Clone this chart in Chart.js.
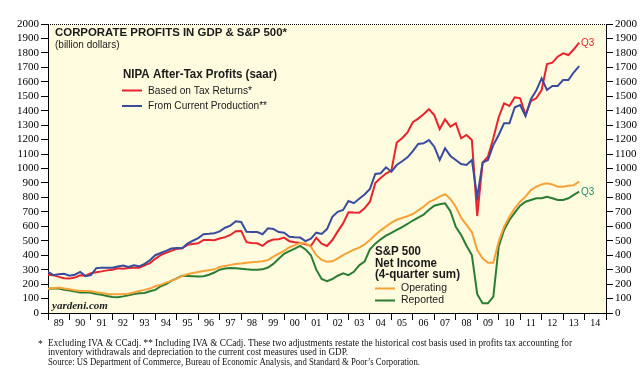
<!DOCTYPE html>
<html lang="en">
<head>
    <meta charset="UTF-8">
    <script src="https://cdn.jsdelivr.net/npm/chart.js"></script>
    <title>Corporate Profits in GDP & S&P 500</title>
    <style>
        body { margin: 0; background: #fff; }
        canvas { display: block; }
    </style>
</head>
<body>
    <canvas id="profitsChart" width="643" height="375"></canvas>

    <script>
        // Quarterly data, first point is 1988 Q4, last is 2013 Q3 (billion dollars)
        const firstYear = 1988;
        const firstQuarter = 4;

        // NIPA after-tax profits based on tax returns (red)
        const taxReturns = [
            265,
            262, 250, 240, 238,   // 89
            245, 261, 258, 275,   // 90
            282, 288, 295, 300,   // 91
            309, 307, 312, 314,   // 92
            314, 330, 345, 375,   // 93
            400, 416, 430, 444,   // 94
            448, 472, 478, 482,   // 95
            506, 505, 504, 515,   // 96
            525, 540, 566, 568,   // 97
            490, 485, 482, 465,   // 98
            495, 508, 510, 522,   // 99
            497, 490, 485, 475,   // 00
            464, 520, 480, 464,   // 01
            505, 565, 620, 697,   // 02
            695, 694, 724, 770,   // 03
            900, 935, 965, 985,   // 04
            1180, 1210, 1250, 1320, // 05
            1345, 1375, 1410, 1370, // 06
            1273, 1340, 1290, 1313, // 07
            1209, 1232, 1197, 671,  // 08
            1040, 1082, 1209, 1355, // 09
            1451, 1433, 1493, 1486, // 10
            1370, 1467, 1486, 1543, // 11
            1723, 1732, 1774, 1797, // 12
            1785, 1825, 1871        // 13
        ];

        // NIPA after-tax profits from current production (blue)
        const currentProduction = [
            285,
            262, 268, 272, 258,
            265, 284, 255, 262,
            310, 314, 314, 314,
            322, 328, 318, 330,
            323, 340, 365, 400,
            415, 430, 446, 450,
            448, 480, 500, 518,
            545, 548, 552, 565,
            590, 605, 635, 630,
            562, 561, 560, 545,
            586, 582, 560, 555,
            528, 524, 522, 498,
            515, 556, 547, 581,
            666, 700, 713, 775,
            760, 790, 820, 858,
            962, 967, 1008, 978,
            1024, 1050, 1077, 1120,
            1170, 1174, 1197, 1151,
            1059, 1140, 1087, 1059,
            1031, 1024, 1059, 800,
            1040, 1059, 1163, 1232,
            1313, 1313, 1424, 1439,
            1363, 1479, 1539, 1624,
            1543, 1571, 1571, 1612,
            1612, 1666, 1709
        ];

        // S&P 500 net income, 4-quarter sum, operating (orange)
        const operating = [
            168,
            172, 176, 170, 164,
            158, 152, 152, 150,
            144, 139, 132, 129,
            129, 131, 134, 142,
            152, 160, 169, 185,
            195, 210, 222, 238,
            255, 268, 277, 284,
            290, 296, 302, 318,
            326, 333, 339, 343,
            348, 352, 354, 358,
            366, 390, 410, 430,
            455, 470, 485, 482,
            458, 400, 368, 355,
            358, 378, 400, 420,
            438, 452, 475, 505,
            540, 572, 598, 625,
            645, 657, 670, 685,
            710, 735, 768, 785,
            805, 822, 790, 735,
            660, 610, 560, 436,
            378, 348, 348, 494,
            597, 666, 724, 770,
            805, 851, 874, 890,
            897, 890, 874, 874,
            880, 885, 909
        ];

        // S&P 500 net income, 4-quarter sum, reported (green)
        const reported = [
            168,
            169, 169, 160, 155,
            148, 142, 143, 140,
            132, 126, 117, 110,
            109, 115, 122, 132,
            136, 139, 150, 160,
            185, 200, 222, 240,
            258, 256, 254, 252,
            255, 265, 280, 300,
            308, 312, 310, 306,
            302, 300, 300, 302,
            315, 340, 375, 410,
            428, 445, 465, 440,
            400, 300, 235, 221,
            235, 258, 275, 262,
            285, 330, 355, 440,
            480, 510, 535, 555,
            575, 595, 616, 640,
            660, 680, 715, 742,
            752, 759, 705, 597,
            540, 465, 401, 130,
            67, 67, 113, 459,
            574, 644, 694, 743,
            770, 782, 794, 794,
            805, 794, 782, 782,
            794, 817, 840
        ];

        const yTicks = { min: 0, max: 2000, step: 100 };
        const yearRange = { min: 1989, max: 2015 };

        const footnotes = [
            'Excluding IVA & CCadj. ** Including IVA & CCadj. These two adjustments restate the historical cost basis used in profits tax accounting for',
            'inventory withdrawals and depreciation to the current cost measures used in GDP.',
            'Source: US Department of Commerce, Bureau of Economic Analysis, and Standard & Poor\u2019s Corporation.'
        ];

        // quarter-end position on the time axis for each data index
        function quarterX(i) {
            const q = firstQuarter - 1 + i;
            return firstYear + Math.floor(q / 4) + ((q % 4) + 1) / 4;
        }

        function toPoints(values) {
            return values.map((v, i) => ({ x: quarterX(i), y: v }));
        }

        const RED = '#E8232B';
        const BLUE = '#3A4B9E';
        const ORANGE = '#F6A236';
        const GREEN = '#2B7D34';
        const GREEN_Q3 = '#1F8C6E';
        const PLOT_BG = '#FEFBDF';

        function lineSet(label, values, color) {
            return {
                label: label,
                data: toPoints(values),
                borderColor: color,
                backgroundColor: color,
                borderWidth: 2,
                pointRadius: 0,
                tension: 0,
                fill: false,
            };
        }

        // yellow plot background and top border
        const plotFrame = {
            id: 'plotFrame',
            beforeDraw(chart) {
                const { ctx, chartArea: a } = chart;
                ctx.save();
                ctx.fillStyle = PLOT_BG;
                ctx.fillRect(a.left, a.top, a.right - a.left, a.bottom - a.top);
                ctx.restore();
            },
            afterDatasetsDraw(chart) {
                const { ctx, chartArea: a } = chart;
                ctx.save();
                ctx.strokeStyle = '#000';
                ctx.lineWidth = 1;
                ctx.setLineDash([1, 1]);
                ctx.beginPath();
                ctx.moveTo(a.left, a.top + 0.5);
                ctx.lineTo(a.right, a.top + 0.5);
                ctx.stroke();
                ctx.restore();
            }
        };

        // titles, legends, notes
        const annotations = {
            id: 'annotations',
            afterDraw(chart) {
                const ctx = chart.ctx;
                const sans = '"Liberation Sans", Arial, sans-serif';
                const serif = '"Liberation Serif", "Times New Roman", serif';
                ctx.save();
                ctx.textBaseline = 'middle';
                ctx.textAlign = 'left';

                ctx.fillStyle = '#1a1a1a';
                ctx.font = 'bold 11.5px ' + sans;
                ctx.fillText('CORPORATE PROFITS IN GDP & S&P 500*', 55, 33, 232);
                ctx.font = '10px ' + sans;
                ctx.fillText('(billion dollars)', 55, 45, 66);

                ctx.font = 'bold 12px ' + sans;
                ctx.fillText('NIPA After-Tax Profits (saar)', 123, 75, 154);
                ctx.font = '10.5px ' + sans;
                ctx.fillText('Based on Tax Returns*', 148, 91, 104);
                ctx.fillText('From Current Production**', 148, 106, 119);
                ctx.lineWidth = 2;
                ctx.strokeStyle = RED;
                ctx.beginPath(); ctx.moveTo(122, 90.5); ctx.lineTo(142, 90.5); ctx.stroke();
                ctx.strokeStyle = BLUE;
                ctx.beginPath(); ctx.moveTo(122, 106); ctx.lineTo(142, 106); ctx.stroke();

                ctx.font = 'bold 12px ' + sans;
                ctx.fillText('S&P 500', 375, 252, 46);
                ctx.fillText('Net Income', 375, 263.5, 62);
                ctx.fillText('(4-quarter sum)', 375, 275, 85);
                ctx.font = '10.5px ' + sans;
                ctx.fillText('Operating', 401, 288, 46);
                ctx.fillText('Reported', 401, 300.5, 43);
                ctx.strokeStyle = ORANGE;
                ctx.beginPath(); ctx.moveTo(375, 288.5); ctx.lineTo(395, 288.5); ctx.stroke();
                ctx.strokeStyle = GREEN;
                ctx.beginPath(); ctx.moveTo(375, 300.5); ctx.lineTo(395, 300.5); ctx.stroke();

                ctx.font = '10px ' + sans;
                ctx.fillStyle = RED;
                ctx.fillText('Q3', 581, 43);
                ctx.fillStyle = GREEN_Q3;
                ctx.fillText('Q3', 581, 192);

                ctx.fillStyle = '#222';
                ctx.font = 'italic bold 11px ' + serif;
                ctx.fillText('yardeni.com', 52, 306, 56);

                ctx.fillStyle = '#111';
                ctx.font = '9.5px ' + serif;
                ctx.fillText('*', 38, 344);
                ctx.fillText(footnotes[0], 48, 343, 524);
                ctx.fillText(footnotes[1], 48, 352.5, 300);
                ctx.fillText(footnotes[2], 48, 362.5, 372);
                ctx.restore();
            }
        };

        const axisFont = { family: '"Liberation Serif", "Times New Roman", serif', size: 11 };

        const ctx = document.getElementById('profitsChart').getContext('2d');
        const chart = new Chart(ctx, {
            type: 'line',
            data: {
                datasets: [
                    lineSet('Operating', operating, ORANGE),
                    lineSet('Reported', reported, GREEN),
                    lineSet('From Current Production', currentProduction, BLUE),
                    lineSet('Based on Tax Returns', taxReturns, RED),
                ],
            },
            plugins: [plotFrame, annotations],
            options: {
                responsive: false,
                animation: false,
                devicePixelRatio: 1,
                layout: { padding: { top: 24, left: 0, right: 0, bottom: 0 } },
                plugins: {
                    legend: { display: false },
                    tooltip: { enabled: false },
                },
                scales: {
                    x: {
                        type: 'linear',
                        min: yearRange.min,
                        max: yearRange.max,
                        afterFit: (scale) => { scale.height = 62; },
                        border: { display: true, color: '#000', width: 1 },
                        grid: {
                            drawOnChartArea: false,
                            drawTicks: true,
                            tickLength: 7,
                            tickColor: (c) => Number.isInteger(c.tick.value) ? '#000' : 'rgba(0,0,0,0)',
                        },
                        ticks: {
                            stepSize: 0.5,
                            autoSkip: false,
                            maxRotation: 0,
                            minRotation: 0,
                            padding: -3,
                            color: '#000',
                            font: { family: axisFont.family, size: 10 },
                            callback: (v) => Number.isInteger(v) ? '' : String(Math.floor(v) % 100).padStart(2, '0'),
                        },
                    },
                    y: {
                        position: 'left',
                        min: yTicks.min,
                        max: yTicks.max,
                        afterFit: (scale) => { scale.width = 48; },
                        border: { display: true, color: '#000', width: 1 },
                        grid: { drawOnChartArea: false, tickLength: 7, tickColor: '#000' },
                        ticks: { stepSize: yTicks.step, autoSkip: false, color: '#000', font: axisFont, padding: 2, callback: (v) => String(v) },
                    },
                    y2: {
                        position: 'right',
                        min: yTicks.min,
                        max: yTicks.max,
                        afterFit: (scale) => { scale.width = 37; },
                        border: { display: true, color: '#000', width: 1 },
                        grid: { drawOnChartArea: false, tickLength: 7, tickColor: '#000' },
                        ticks: { stepSize: yTicks.step, autoSkip: false, color: '#000', font: axisFont, padding: 2, callback: (v) => String(v) },
                    },
                },
            },
        });
    </script>
</body>
</html>
